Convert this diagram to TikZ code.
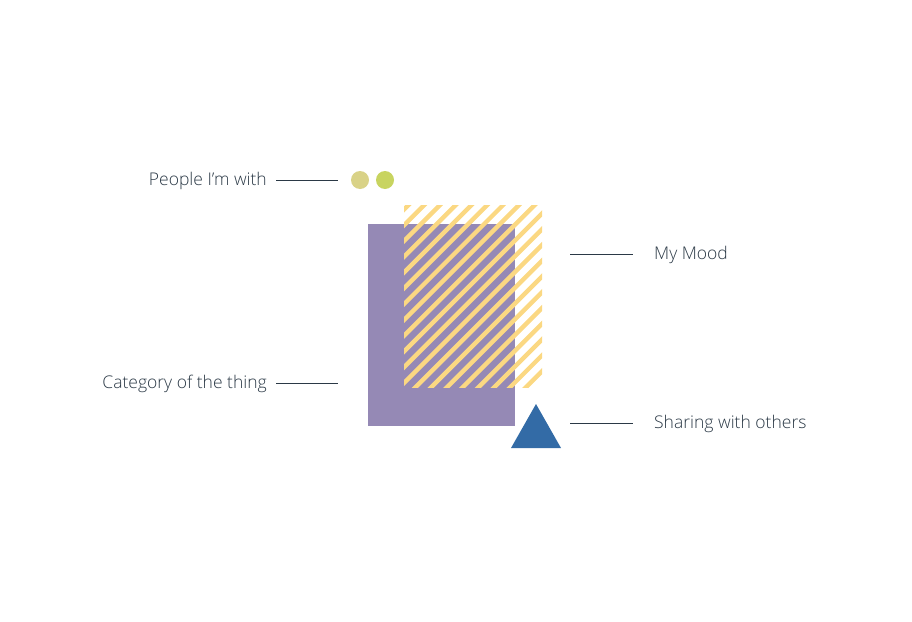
\documentclass[tikz,border=0pt]{standalone}
\usepackage{fontspec}
\setmainfont{Open Sans}[UprightFont=* Light]
\usetikzlibrary{positioning}

\definecolor{ink}{HTML}{2B3946}
\definecolor{dotsand}{HTML}{D9D287}
\definecolor{dotlime}{HTML}{C8D460}
\definecolor{category}{HTML}{9589B5}
\definecolor{mood}{HTML}{FBD882}
\definecolor{sharing}{HTML}{336BA6}

\begin{document}
\begin{tikzpicture}[x=1pt,y=-1pt,
                    lead/.style={draw=ink,line width=0.8pt},
                    caption/.style={text=ink,inner sep=0pt,
                                    font=\fontsize{17.5}{21}\selectfont},
                    dot/.style={circle,minimum size=18pt,inner sep=0pt}]
  \useasboundingbox (0,0) rectangle (912,621);

  % people dots
  \node[dot,fill=dotsand] (sand) at (360,180) {};
  \node[dot,fill=dotlime] (lime) at (385,180) {};

  % category block
  \fill[category] (368,224) rectangle (515,426);

  % mood hatching
  \begin{scope}
    \clip (404,205) rectangle (542,387);
    \foreach \k in {-1,...,19}
      \draw[mood,line width=4.4pt] ({613.5+15.77*\k-400},400) -- ({613.5+15.77*\k-200},200);
  \end{scope}

  % sharing triangle
  \fill[sharing] (511,448) -- (561,448) -- (536,404) -- cycle;

  % leader lines
  \coordinate (pw-a)  at (276,180);
  \coordinate (pw-b)  at (338,180);
  \coordinate (cat-a) at (276,383);
  \coordinate (cat-b) at (338,383);
  \coordinate (mm-a)  at (570,254);
  \coordinate (mm-b)  at (633,254);
  \coordinate (sh-a)  at (570,423);
  \coordinate (sh-b)  at (633,423);

  \node[caption,anchor=east] (pw)  [left=9pt of pw-a,yshift=-1pt]  {People I’m with};
  \node[caption,anchor=east] (cat) [left=9pt of cat-a,yshift=-1pt] {Category of the thing};
  \node[caption,anchor=west] (mm)  [right=21pt of mm-b,yshift=-1pt] {My Mood};
  \node[caption,anchor=west] (sh)  [right=21pt of sh-b,yshift=-1pt] {Sharing with others};

  \draw[lead] (pw-a) -- (pw-b);
  \draw[lead] (cat-a) -- (cat-b);
  \draw[lead] (mm-a) -- (mm-b);
  \draw[lead] (sh-a) -- (sh-b);
\end{tikzpicture}
\end{document}
